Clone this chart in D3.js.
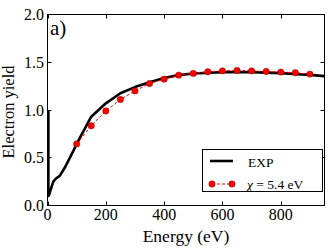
<!DOCTYPE html>
<html><head><meta charset="utf-8">
<script src="https://cdn.jsdelivr.net/npm/d3@7"></script>
<style>
body{margin:0;background:#fff;}
svg{display:block;}
text{font-family:"Liberation Serif","Times New Roman",serif;fill:#000;}
</style></head>
<body><svg id="c" width="332" height="249"></svg>
<script>
// EXP curve
const expEnergy = [3, 3, 5, 20, 28, 42, 60, 90, 100, 150, 200, 250, 300, 350, 400, 450, 500, 600, 700, 800, 900, 950];
const expYield  = [1.0, 0.1, 0.11, 0.25, 0.28, 0.31, 0.40, 0.58, 0.645, 0.93, 1.07, 1.175, 1.24, 1.29, 1.335, 1.365, 1.382, 1.397, 1.397, 1.386, 1.368, 1.355];
// Simulation chi = 5.4 eV
const simEnergy = [100, 150, 200, 250, 300, 350, 400, 450, 500, 550, 600, 650, 700, 750, 800, 850, 900];
const simYield  = [0.645, 0.835, 0.99, 1.11, 1.20, 1.277, 1.323, 1.365, 1.383, 1.40, 1.41, 1.414, 1.41, 1.403, 1.397, 1.39, 1.376];
const xTicks = [0, 200, 400, 600, 800];
const yTicks = [0.0, 0.5, 1.0, 1.5, 2.0];
const legendLabels = ["EXP", "\u03C7 = 5.4 eV"];

const svg = d3.select("#c");
const L = 47.5, R = 324.5, T = 14.5, B = 205.5;
const x = d3.scaleLinear().domain([0, 950]).range([L, R]);
const y = d3.scaleLinear().domain([0, 2]).range([B, T]);

svg.append("clipPath").attr("id","clp").append("rect")
  .attr("x", L).attr("y", T).attr("width", R-L).attr("height", B-T);

const g = svg.append("g").attr("clip-path","url(#clp)");

const line = d3.line().x(d => x(d[0])).y(d => y(d[1]));
const expData = expEnergy.map((e,i) => [e, expYield[i]]);
const simData = simEnergy.map((e,i) => [e, simYield[i]]);

g.append("path").datum(expData).attr("d", line)
  .attr("fill","none").attr("stroke","#000").attr("stroke-width",2.6).attr("stroke-linejoin","round");
g.append("path").datum(simData).attr("d", line)
  .attr("fill","none").attr("stroke","#f00").attr("stroke-width",1).attr("stroke-dasharray","3,2");
g.selectAll("circle").data(simData).enter().append("circle")
  .attr("cx", d => x(d[0])).attr("cy", d => y(d[1])).attr("r", 3.2)
  .attr("fill","#f00").attr("stroke","#600").attr("stroke-width",0.4);

// frame
svg.append("rect").attr("x", L).attr("y", T).attr("width", R-L).attr("height", B-T)
  .attr("fill","none").attr("stroke","#000").attr("stroke-width",1);

// ticks (inward, all sides)
const tl = 4;
xTicks.forEach(t => {
  const px = Math.round(x(t)) + 0.5;
  svg.append("line").attr("x1",px).attr("x2",px).attr("y1",B).attr("y2",B-tl).attr("stroke","#000");
  svg.append("line").attr("x1",px).attr("x2",px).attr("y1",T).attr("y2",T+tl).attr("stroke","#000");
  svg.append("text").attr("x", x(t)).attr("y", 220).attr("text-anchor","middle")
    .attr("font-size", 16).text(d3.format("d")(t));
});
yTicks.forEach(t => {
  const py = Math.round(y(t) - 0.5) + 0.5;
  svg.append("line").attr("x1",L).attr("x2",L+tl).attr("y1",py).attr("y2",py).attr("stroke","#000");
  svg.append("line").attr("x1",R).attr("x2",R-tl).attr("y1",py).attr("y2",py).attr("stroke","#000");
  svg.append("text").attr("x", 44).attr("y", y(t) + 5.5).attr("text-anchor","end")
    .attr("font-size", 16).text(d3.format(".1f")(t));
});

// axis labels
svg.append("text").attr("x", (L+R)/2).attr("y", 242).attr("text-anchor","middle")
  .attr("font-size", 17.5).text("Energy (eV)");
svg.append("text").attr("transform","translate(14,112) rotate(-90)").attr("text-anchor","middle")
  .attr("font-size", 16.5).text("Electron yield");

// panel label
svg.append("text").attr("x", 50).attr("y", 35).attr("font-size", 21).text("a)");

// legend
svg.append("rect").attr("x", 202.5).attr("y", 149.5).attr("width", 120).attr("height", 42)
  .attr("fill","#fff").attr("stroke","#000").attr("stroke-width",1);
svg.append("line").attr("x1",210).attr("x2",233).attr("y1",161).attr("y2",161)
  .attr("stroke","#000").attr("stroke-width",2.6);
svg.append("text").attr("x", 248).attr("y", 166.5).attr("font-size", 13.5).text(legendLabels[0]);
svg.append("line").attr("x1",212).attr("x2",232).attr("y1",184).attr("y2",184)
  .attr("stroke","#f00").attr("stroke-width",1).attr("stroke-dasharray","3,2");
[212, 232].forEach(cx => svg.append("circle").attr("cx",cx).attr("cy",184).attr("r",3.2)
  .attr("fill","#f00").attr("stroke","#600").attr("stroke-width",0.4));
const lt = svg.append("text").attr("x", 247).attr("y", 189).attr("font-size", 13.5);
lt.append("tspan").attr("font-style","italic").text("\u03C7");
lt.append("tspan").text(" = 5.4 eV");
</script></body></html>
